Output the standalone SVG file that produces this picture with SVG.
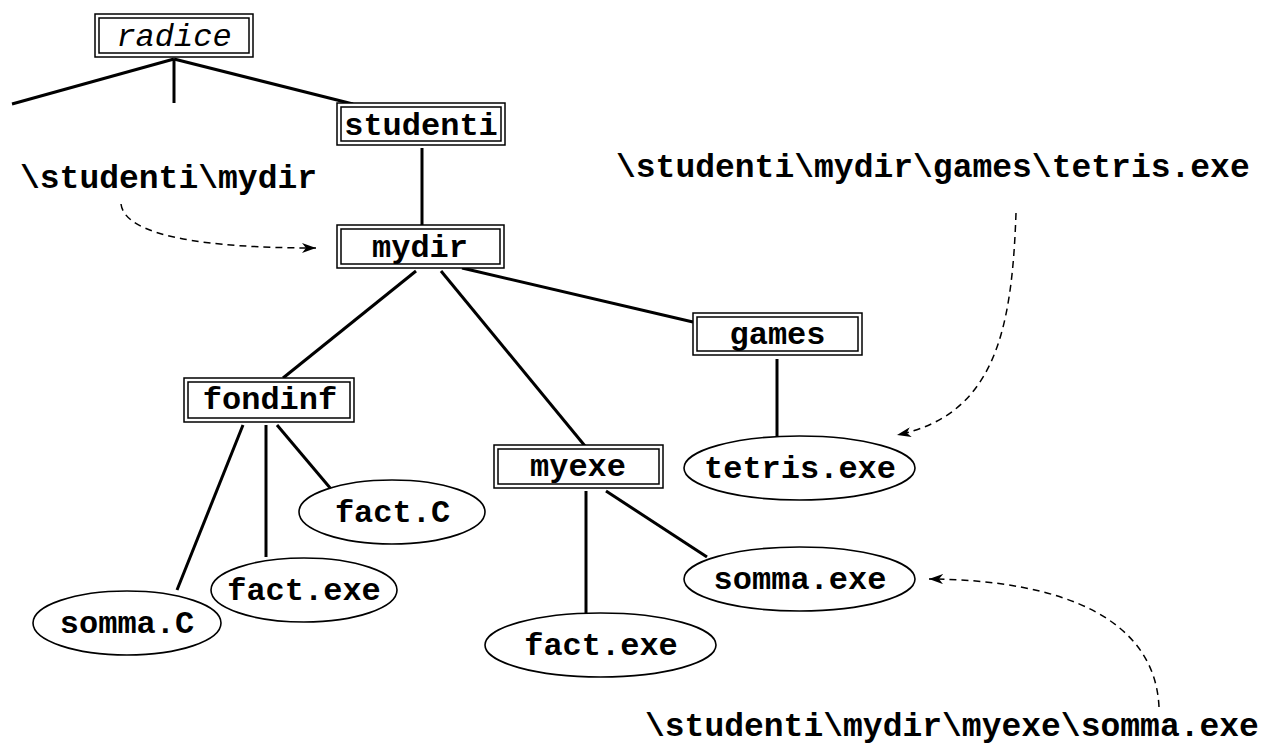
<svg xmlns="http://www.w3.org/2000/svg" width="1262" height="746" viewBox="0 0 1262 746">
<style>
  .t{font-family:"Liberation Mono","Courier New",monospace;font-size:32px;font-weight:bold;fill:#000;text-anchor:middle}
  .lbl{font-family:"Liberation Mono","Courier New",monospace;font-size:33px;font-weight:bold;fill:#000}
  .it{font-family:"Liberation Mono","Courier New",monospace;font-size:32px;font-style:italic;font-weight:normal;fill:#000;text-anchor:middle}
  .bo{fill:#fff;stroke:#000;stroke-width:1.5}
  .bi{fill:none;stroke:#000;stroke-width:1.5}
  .el{fill:#fff;stroke:#000;stroke-width:1.6}
  .edge{stroke:#000;stroke-width:3;fill:none}
  .dash{stroke:#000;stroke-width:1.5;fill:none;stroke-dasharray:7 5}
</style>
<defs>
  <marker id="ah" viewBox="0 0 14 10" refX="14" refY="5" markerWidth="14" markerHeight="10" markerUnits="userSpaceOnUse" orient="auto">
    <path d="M0,0 L14,5 L0,10 L4,5 z" fill="#000"/>
  </marker>
</defs>
<rect width="1262" height="746" fill="#fff"/>
<g id="connectors">
  <line class="edge" x1="174" y1="59" x2="12" y2="104"/>
  <line class="edge" x1="174" y1="59" x2="174" y2="103"/>
  <line class="edge" x1="174" y1="59" x2="353" y2="104"/>
  <line class="edge" x1="422" y1="148" x2="422" y2="225"/>
  <line class="edge" x1="416" y1="271" x2="283" y2="378"/>
  <line class="edge" x1="441" y1="271" x2="585" y2="446"/>
  <line class="edge" x1="462" y1="268" x2="693" y2="322"/>
  <line class="edge" x1="777" y1="359" x2="777" y2="436"/>
  <line class="edge" x1="586" y1="491" x2="586" y2="613"/>
  <line class="edge" x1="606" y1="491" x2="707" y2="557"/>
  <line class="edge" x1="243" y1="425" x2="177" y2="590"/>
  <line class="edge" x1="266" y1="425" x2="266" y2="557"/>
  <line class="edge" x1="277" y1="425" x2="331" y2="489"/>
  <path class="dash" d="M121,204 C125,236 205,248 316,248" marker-end="url(#ah)"/>
  <path class="dash" d="M1016,213 C1012,330 995,415 897,435" marker-end="url(#ah)"/>
  <path class="dash" d="M1159,707 C1155,620 1065,580 929,579" marker-end="url(#ah)"/>
</g>
<g id="radice">
  <rect class="bo" x="95" y="14" width="158" height="43"/>
  <rect class="bi" x="99" y="18" width="150" height="35"/>
  <text class="it" x="174" y="46">radice</text>
</g>
<g id="studenti">
  <rect class="bo" x="337" y="103" width="168" height="42"/>
  <rect class="bi" x="341" y="107" width="160" height="34"/>
  <text class="t" x="421" y="135">studenti</text>
</g>
<g id="mydir">
  <rect class="bo" x="337" y="225" width="167" height="43"/>
  <rect class="bi" x="341" y="229" width="159" height="35"/>
  <text class="t" x="420" y="257">mydir</text>
</g>
<g id="games">
  <rect class="bo" x="693" y="313" width="169" height="42"/>
  <rect class="bi" x="697" y="317" width="161" height="34"/>
  <text class="t" x="777.5" y="344">games</text>
</g>
<g id="fondinf">
  <rect class="bo" x="184" y="378" width="170" height="44"/>
  <rect class="bi" x="188" y="382" width="162" height="36"/>
  <text class="t" x="270" y="409">fondinf</text>
</g>
<g id="myexe">
  <rect class="bo" x="494" y="445" width="169" height="43"/>
  <rect class="bi" x="498" y="449" width="161" height="35"/>
  <text class="t" x="578" y="476">myexe</text>
</g>
<g id="tetris">
  <ellipse class="el" cx="799.5" cy="468" rx="115.5" ry="32"/>
  <text class="t" x="800" y="478">tetris.exe</text>
</g>
<g id="somma-exe">
  <ellipse class="el" cx="799.5" cy="579" rx="115.5" ry="32"/>
  <text class="t" x="800" y="589">somma.exe</text>
</g>
<g id="fact-exe-myexe">
  <ellipse class="el" cx="600.5" cy="645" rx="115.5" ry="32"/>
  <text class="t" x="601" y="655">fact.exe</text>
</g>
<g id="fact-c">
  <ellipse class="el" cx="392" cy="512" rx="93" ry="32"/>
  <text class="t" x="392.5" y="522">fact.C</text>
</g>
<g id="fact-exe-fondinf">
  <ellipse class="el" cx="304" cy="590" rx="93" ry="32"/>
  <text class="t" x="304" y="600">fact.exe</text>
</g>
<g id="somma-c">
  <ellipse class="el" cx="127" cy="623" rx="94" ry="32"/>
  <text class="t" x="127" y="633">somma.C</text>
</g>
<g id="labels">
  <text class="lbl" x="20" y="188">\studenti\mydir</text>
  <text class="lbl" x="616" y="177">\studenti\mydir\games\tetris.exe</text>
  <text class="lbl" x="645" y="736">\studenti\mydir\myexe\somma.exe</text>
</g>
</svg>
